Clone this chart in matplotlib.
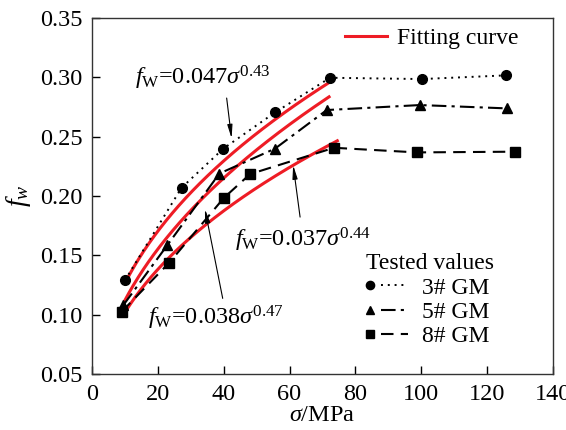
import numpy as np
import matplotlib
matplotlib.use('Agg')
import matplotlib.pyplot as plt
from matplotlib.lines import Line2D
from matplotlib.legend_handler import HandlerBase

plt.rcParams['font.family'] = 'Liberation Serif'
plt.rcParams['mathtext.fontset'] = 'custom'
plt.rcParams['mathtext.rm'] = 'Liberation Serif'
plt.rcParams['mathtext.it'] = 'Liberation Serif:italic'

# tested values
s3 = [10.0, 27.2, 39.9, 55.6, 72.3, 100.1, 125.6]
f3 = [0.129, 0.207, 0.240, 0.2705, 0.2997, 0.2986, 0.3017]
s5 = [9.5, 22.9, 38.7, 55.6, 71.3, 99.6, 125.9]
f5 = [0.108, 0.1587, 0.219, 0.240, 0.2725, 0.2767, 0.2739]
s8 = [9.0, 23.5, 40.1, 48.0, 73.5, 98.6, 128.4]
f8 = [0.1025, 0.144, 0.1986, 0.2185, 0.2407, 0.2368, 0.2374]

# fitted power laws f = a * sigma^b
fit_a = [0.047, 0.038, 0.037]
fit_b = [0.43, 0.47, 0.44]
fit_lo = [10.5, 10.0, 10.5]
fit_hi = [72.0, 72.0, 74.5]


class MarkerThenLine(HandlerBase):
    # legend entry: marker on the left, short line sample on the right
    def create_artists(self, legend, orig_handle, xdescent, ydescent,
                       width, height, fontsize, trans):
        mk, ln = orig_handle
        y = height / 2 - ydescent
        x0 = -xdescent
        m = Line2D([x0 + 0.1 * width], [y], marker=mk.get_marker(),
                   ms=mk.get_markersize() * 0.85, color='black', ls='none')
        l = Line2D([x0 + 0.37 * width, x0 + width], [y, y], color='black',
                   lw=ln.get_linewidth())
        l.set_linestyle(ln.get_linestyle())
        l.set_dashes(ln._unscaled_dash_pattern[1])
        for art in (m, l):
            art.set_transform(trans)
        return [m, l]


fig = plt.figure(figsize=(5.66, 4.30), dpi=100)
ax = fig.add_axes([0.1625, 0.130, 0.8145, 0.828])

for a, b, lo, hi in zip(fit_a, fit_b, fit_lo, fit_hi):
    s = np.linspace(lo, hi, 200)
    ax.plot(s, a * s**b, color='#ee1c25', lw=2.2, zorder=3)

l3, = ax.plot(s3, f3, color='black', ls=(0, (1, 2.5)), lw=1.4, zorder=4)
l5, = ax.plot(s5, f5, color='black', ls=(0, (7, 2.5, 1.5, 2.5)), lw=1.5, zorder=4)
l8, = ax.plot(s8, f8, color='black', ls=(0, (6, 3.5)), lw=1.5, zorder=4)
m3, = ax.plot(s3, f3, 'o', color='black', ms=7, ls='none', zorder=5)
m5, = ax.plot(s5, f5, '^', color='black', ms=7, ls='none', zorder=5)
m8, = ax.plot(s8, f8, 's', color='black', ms=6.5, ls='none', zorder=5)

ax.set_xlim(0, 140)
ax.set_ylim(0.05, 0.35)
ax.set_xticks(np.arange(0, 141, 20))
ax.set_yticks(np.arange(0.05, 0.351, 0.05))
ax.set_yticklabels(['%.2f' % v for v in np.arange(0.05, 0.351, 0.05)])
ax.tick_params(direction='in', length=6, width=1, labelsize=17.5, pad=7,
               top=False, right=False)
for sp in ax.spines.values():
    sp.set_color('#333333')
    sp.set_linewidth(1.0)

ax.set_xlabel(r'$\sigma$/MPa', fontsize=17.5, labelpad=0)
ax.set_ylabel(r'$f_w$', fontsize=20, labelpad=5)

# equation labels with arrows
eq_kw = dict(fontsize=17.5, ha='center', va='center', zorder=6)
ax.text(33.7, 0.300, r'$f_{\mathrm{W}}$=0.047$\sigma^{0.43}$', **eq_kw)
ax.text(64.1, 0.163, r'$f_{\mathrm{W}}$=0.037$\sigma^{0.44}$', **eq_kw)
ax.text(37.7, 0.097, r'$f_{\mathrm{W}}$=0.038$\sigma^{0.47}$', **eq_kw)
arr = dict(arrowstyle='-|>,head_width=0.15,head_length=0.8', color='black',
           lw=0.8, shrinkA=0, shrinkB=0)
ax.annotate('', xy=(42.4, 0.2486), xytext=(40.9, 0.2826), arrowprops=arr, zorder=6)
ax.annotate('', xy=(61.1, 0.226), xytext=(63.2, 0.1823), arrowprops=arr, zorder=6)
ax.annotate('', xy=(34.3, 0.189), xytext=(39.7, 0.1138), arrowprops=arr, zorder=6)

fit_handle = Line2D([], [], color='#ee1c25', lw=2.2)
leg1 = ax.legend([fit_handle], ['Fitting curve'], loc='upper left',
                 bbox_to_anchor=(0.514, 1.02), frameon=False, fontsize=17,
                 handlelength=1.75, handletextpad=0.45, borderaxespad=0.3)
ax.add_artist(leg1)

leg2 = ax.legend([(m3, l3), (m5, l5), (m8, l8)], ['3# GM', '5# GM', '8# GM'],
                 handler_map={tuple: MarkerThenLine()},
                 title='Tested values', title_fontsize=17, alignment='left',
                 loc='lower left', bbox_to_anchor=(0.563, 0.035),
                 frameon=False, fontsize=17, handlelength=1.8,
                 handletextpad=0.6, labelspacing=0.12, borderaxespad=0.2)

fig.savefig('out.png', dpi=100)
